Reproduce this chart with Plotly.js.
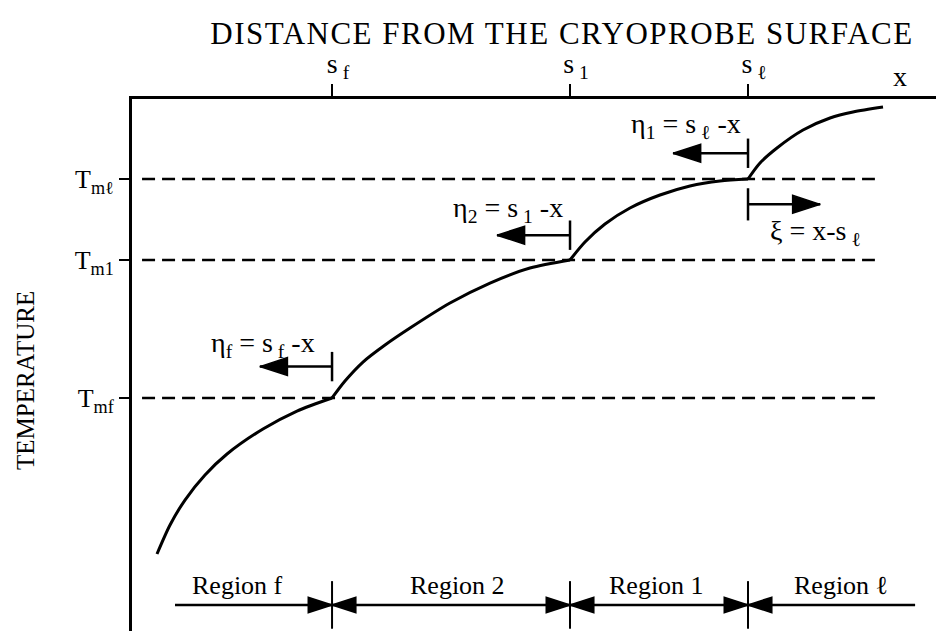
<!DOCTYPE html>
<html>
<head>
<meta charset="utf-8">
<script src="https://cdn.plot.ly/plotly-3.0.1.min.js"></script>
<style>
  html, body { margin: 0; padding: 0; background: #fff; }
  #chart { width: 936px; height: 631px; }
  #chart .gtitle { letter-spacing: 1.5px; }
</style>
</head>
<body>
<div id="chart"></div>
<script>
// Phase-change fronts along the distance axis (s_f, s_1, s_l)
const frontPos = [24.88, 54.48, 76.62];
const frontLabels = ['s<sub> f</sub>', 's<sub> 1</sub>', 's<sub> ℓ</sub>'];

// Melting temperatures on the temperature axis
const meltTemp = [43.8, 69.74, 84.96];
const meltLabels = ['T<sub>mf</sub>', 'T<sub>m1</sub>', 'T<sub>mℓ</sub>'];

// Temperature profile, one piece per region
const regionFx = [3.11, 4.73, 6.59, 9.08, 11.82, 16.29, 20.52, 24.88];
const regionFy = [14.47, 19.92, 24.62, 29.32, 33.27, 37.97, 41.35, 43.8];
const region2x = [24.88, 26.49, 28.73, 31.47, 34.58, 39.55, 44.53, 49.5, 54.48];
const region2y = [43.8, 46.99, 50.56, 53.76, 56.95, 61.65, 65.41, 68.23, 69.74];
const region1x = [54.48, 56.34, 58.83, 61.94, 65.67, 69.4, 73.13, 76.62];
const region1y = [69.74, 73.12, 76.5, 79.51, 81.95, 83.65, 84.59, 84.96];
const regionLx = [76.62, 78.11, 80.22, 83.46, 86.82, 89.68, 93.41];
const regionLy = [84.96, 87.97, 90.79, 94.17, 96.43, 97.56, 98.5];

// Extent of the melting-temperature reference lines
const refLineX = [1.25, 92.4];

// Local coordinates eta (pointing back toward the probe) and xi
const etaTexts = ['η<sub>f</sub> = s<sub> f</sub> -x', 'η<sub>2</sub> = s<sub> 1</sub> -x', 'η<sub>1</sub> = s<sub> ℓ</sub> -x'];
const etaLevel = [49.7, 74.4, 89.8];
const etaTip = [15.9, 45.4, 67.3];
const xiText = 'ξ = x-s<sub> ℓ</sub>';
const xiLevel = 80.2;
const xiTip = 85.6;

// Region strip along the bottom
const regionNames = ['Region f', 'Region 2', 'Region 1', 'Region ℓ'];
const regionCenters = [13.1, 40.5, 65.2, 88.2];
const stripLevel = 4.9;
const stripX = [5.35, 97.4];

const FONT = 'Liberation Serif, Times New Roman, serif';
const INK = '#000';

const traces = [];

// dashed melting-temperature lines
meltTemp.forEach(t => {
  traces.push({
    x: refLineX, y: [t, t], mode: 'lines', hoverinfo: 'skip',
    line: { color: INK, width: 2.6, dash: '13px,7px' }
  });
});

// temperature profile
[[regionFx, regionFy], [region2x, region2y], [region1x, region1y], [regionLx, regionLy]].forEach(([xs, ys]) => {
  traces.push({
    x: xs, y: ys, mode: 'lines', hoverinfo: 'skip',
    line: { color: INK, width: 3, shape: 'spline', smoothing: 0.8 }
  });
});

// eta arrows: bar at the front, head pointing toward the probe
frontPos.forEach((s, i) => {
  traces.push({
    x: [s, etaTip[i]], y: [etaLevel[i], etaLevel[i]], mode: 'lines+markers', hoverinfo: 'skip',
    cliponaxis: false,
    line: { color: INK, width: 2.5 },
    marker: { symbol: ['line-ns', 'arrow'], angle: [0, -90], size: [21, 29], color: INK, opacity: 1,
              line: { color: INK, width: [2.5, 1.5] } }
  });
});

// xi arrow pointing away from the probe
traces.push({
  x: [frontPos[2], xiTip], y: [xiLevel, xiLevel], mode: 'lines+markers', hoverinfo: 'skip',
  line: { color: INK, width: 2.5 },
  marker: { symbol: ['line-ns', 'arrow'], angle: [0, 90], size: [23, 29], color: INK, opacity: 1,
            line: { color: INK, width: [2.5, 1.5] } }
});

// region strip line
traces.push({
  x: stripX, y: [stripLevel, stripLevel], mode: 'lines', hoverinfo: 'skip',
  line: { color: INK, width: 2.5 }
});

// region boundaries: two facing heads and a bar at each front
const bx = [], by = [], bsym = [], bang = [], bsize = [], blw = [];
frontPos.forEach(s => {
  bx.push(s, s, s); by.push(stripLevel, stripLevel, stripLevel);
  bsym.push('arrow', 'arrow', 'line-ns'); bang.push(90, -90, 0);
  bsize.push(25, 25, 34); blw.push(1.5, 1.5, 2);
});
traces.push({
  x: bx, y: by, mode: 'markers', hoverinfo: 'skip', cliponaxis: false,
  marker: { symbol: bsym, angle: bang, size: bsize, color: INK, opacity: 1,
            line: { color: INK, width: blw } }
});

const annotations = [];
const etaPos = [[16.3, 53.8], [46.8, 79.3], [68.9, 95.0]];
etaTexts.forEach((t, i) => {
  annotations.push({ x: etaPos[i][0], y: etaPos[i][1], xref: 'x', yref: 'y', text: t, showarrow: false,
    xanchor: 'center', yanchor: 'middle', font: { family: FONT, size: 28, color: INK } });
});
annotations.push({ x: 84.95, y: 75.0, xref: 'x', yref: 'y', text: xiText, showarrow: false,
  xanchor: 'center', yanchor: 'middle', font: { family: FONT, size: 28, color: INK } });

regionNames.forEach((r, i) => {
  annotations.push({ x: regionCenters[i], y: stripLevel + 3.6, xref: 'x', yref: 'y', text: r, showarrow: false,
    xanchor: 'center', yanchor: 'middle', font: { family: FONT, size: 26, color: INK } });
});

// distance axis variable
annotations.push({ x: 95.5, y: 1.043, xref: 'x', yref: 'paper', text: 'x', showarrow: false,
  xanchor: 'center', yanchor: 'middle', font: { family: FONT, size: 28, color: INK } });

// temperature axis title, placed near the left edge of the page
annotations.push({ x: (25 - 132) / 804, y: (631 - 381) / 532, xref: 'paper', yref: 'paper',
  text: 'TEMPERATURE', showarrow: false, xanchor: 'center', yanchor: 'middle',
  textangle: -90, font: { family: FONT, size: 25, color: INK } });

const layout = {
  width: 936, height: 631,
  margin: { l: 132, r: 0, t: 99, b: 0, pad: 0 },
  paper_bgcolor: '#fff', plot_bgcolor: '#fff',
  showlegend: false,
  title: {
    text: 'DISTANCE FROM THE CRYOPROBE SURFACE',
    font: { family: FONT, size: 31, color: INK },
    x: 562 / 936, xref: 'container', xanchor: 'center',
    y: 1 - 33 / 631, yref: 'container', yanchor: 'middle'
  },
  xaxis: {
    side: 'top', range: [0, 100], fixedrange: true,
    showline: true, linewidth: 3, linecolor: INK, mirror: false,
    showgrid: false, zeroline: false,
    ticks: 'outside', ticklen: 12, tickwidth: 2, tickcolor: INK,
    tickvals: frontPos, ticktext: frontLabels, ticklabelshift: 6,
    tickfont: { family: FONT, size: 28, color: INK }
  },
  yaxis: {
    range: [0, 100], fixedrange: true,
    showline: true, linewidth: 3, linecolor: INK,
    showgrid: false, zeroline: false,
    ticks: 'outside', ticklen: 10, tickwidth: 2, tickcolor: INK,
    tickvals: meltTemp, ticktext: meltLabels,
    tickfont: { family: FONT, size: 26, color: INK }
  },
  annotations: annotations
};

Plotly.newPlot('chart', traces, layout, { staticPlot: true, displayModeBar: false });
</script>
</body>
</html>
